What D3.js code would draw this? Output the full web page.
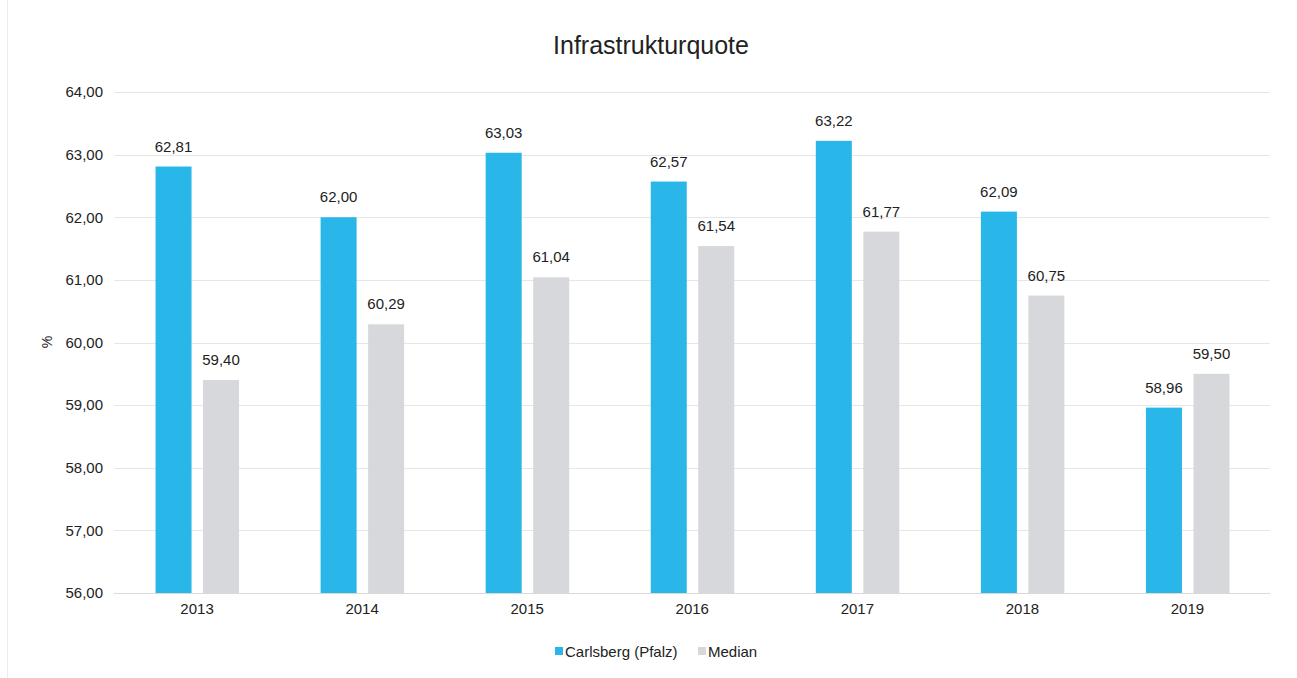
<!DOCTYPE html>
<html><head><meta charset="utf-8">
<script src="https://cdn.jsdelivr.net/npm/d3@7/dist/d3.min.js"></script>
<style>body{margin:0;background:#fff;font-family:"Liberation Sans",Arial,sans-serif;}</style>
</head><body>
<svg id="c" width="1297" height="678"></svg>
<script>
const categories = ["2013","2014","2015","2016","2017","2018","2019"];
const seriesNames = ["Carlsberg (Pfalz)","Median"];
const carlsberg = [62.81,62.00,63.03,62.57,63.22,62.09,58.96];
const median = [59.40,60.29,61.04,61.54,61.77,60.75,59.50];
const yTicks = [56,57,58,59,60,61,62,63,64];
const colors = ["#29b6e9","#d6d8db"];

const svg = d3.select("#c");
const W = 1297, H = 678;
svg.append("rect").attr("width",W).attr("height",H).attr("fill","#fff");
svg.append("line").attr("x1",7.5).attr("x2",7.5).attr("y1",0).attr("y2",H).attr("stroke","#ececec");

const x = d3.scaleBand().domain(categories).range([114.5,1270]);
const y = d3.scaleLinear().domain([56,64]).range([593,92]);
const fmt = v => d3.format(".2f")(v).replace(".",",");

// grid
svg.append("g").selectAll("line").data(yTicks).join("line")
  .attr("x1",114).attr("x2",1270)
  .attr("y1",d=>Math.round(y(d))+0.5).attr("y2",d=>Math.round(y(d))+0.5)
  .attr("stroke",d=>d===56?"#d9d9d9":"#e6e6e6").attr("stroke-width",1);

// y axis labels
const yAxis = d3.axisLeft(y).tickValues(yTicks).tickFormat(fmt).tickSize(0).tickPadding(0);
const ga = svg.append("g").attr("transform","translate(103,0)").call(yAxis);
ga.select(".domain").remove();
ga.selectAll("text").attr("font-size",15).attr("fill","#222").attr("font-family","Liberation Sans, Arial, sans-serif");

// x axis labels
const xAxis = d3.axisBottom(x).tickSize(0).tickPadding(0);
const gx = svg.append("g").attr("transform","translate(0,603)").call(xAxis);
gx.select(".domain").remove();
gx.selectAll("text").attr("font-size",15).attr("fill","#222").attr("font-family","Liberation Sans, Arial, sans-serif");

const barW = 36, off = [-41.5, 6];
const series = [carlsberg, median];
series.forEach((vals,si)=>{
  const g = svg.append("g");
  g.selectAll("rect").data(vals).join("rect")
    .attr("x",(d,i)=>x(categories[i])+x.bandwidth()/2+off[si])
    .attr("width",barW)
    .attr("y",d=>y(d)).attr("height",d=>y(56)-y(d))
    .attr("fill",colors[si]);
  g.selectAll("text").data(vals).join("text")
    .attr("x",(d,i)=>x(categories[i])+x.bandwidth()/2+off[si]+barW/2)
    .attr("y",d=>y(d)-15)
    .attr("text-anchor","middle").attr("font-size",15).attr("fill","#222")
    .text(fmt);
});

// title
svg.append("text").attr("x",651).attr("y",54).attr("text-anchor","middle")
  .attr("font-size",25).attr("fill","#222").text("Infrastrukturquote");
// y title
svg.append("text").attr("transform","translate(52,342) rotate(-90)").attr("text-anchor","middle")
  .attr("font-size",14).attr("fill","#222").text("%");

// legend
const leg = svg.append("g");
const legItems = [{n:seriesNames[0],c:colors[0],x:555},{n:seriesNames[1],c:colors[1],x:698}];
legItems.forEach(l=>{
  leg.append("rect").attr("x",l.x).attr("y",647).attr("width",8).attr("height",8).attr("fill",l.c);
  leg.append("text").attr("x",l.x+10).attr("y",657).attr("font-size",15).attr("fill","#222").text(l.n);
});
</script>
</body></html>
